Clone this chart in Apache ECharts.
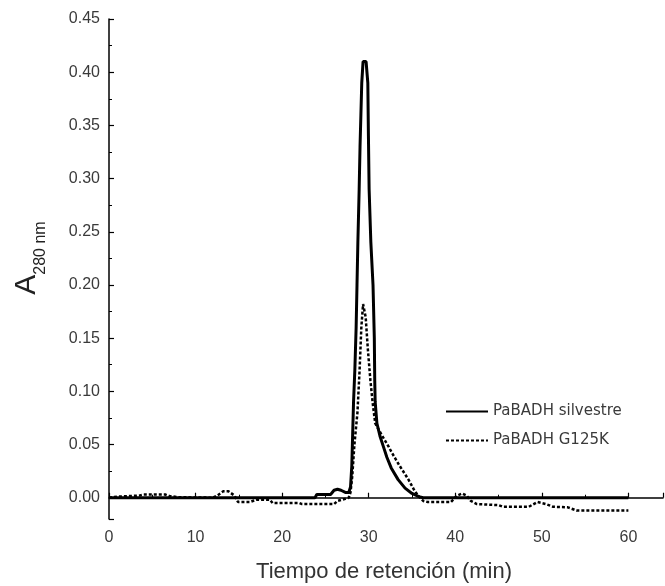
<!DOCTYPE html>
<html>
<head>
<meta charset="utf-8">
<script src="https://cdn.jsdelivr.net/npm/echarts@6/dist/echarts.min.js"></script>
<style>
html,body{margin:0;padding:0;background:#fff;}
#chart{width:665px;height:586px;}
</style>
</head>
<body>
<div id="chart"></div>
<script>
// Data
const seriesNames = ['PaBADH silvestre', 'PaBADH G125K'];
const xTicks = [0, 10, 20, 30, 40, 50, 60];
const yTicks = [0.00, 0.05, 0.10, 0.15, 0.20, 0.25, 0.30, 0.35, 0.40, 0.45];

// PaBADH silvestre (solid)
const wildT = [0, 23.8, 24.0, 25.6, 26.0, 26.4, 26.8, 27.3, 27.7, 27.9, 28.05, 28.15, 28.25, 28.4, 28.55, 28.65, 28.75, 28.9, 29.0, 29.1, 29.2, 29.35, 29.7, 29.9, 29.97, 30.05, 30.25, 30.5, 30.65, 30.7, 30.75, 30.95, 31.3, 31.7, 32.1, 32.6, 33.4, 34.2, 35.0, 35.8, 36.3, 60];
const wildA = [0, 0, 0.003, 0.003, 0.007, 0.008, 0.007, 0.005, 0.005, 0.010, 0.030, 0.060, 0.090, 0.120, 0.160, 0.200, 0.240, 0.290, 0.330, 0.360, 0.390, 0.410, 0.410, 0.390, 0.340, 0.290, 0.240, 0.200, 0.150, 0.110, 0.090, 0.070, 0.058, 0.048, 0.038, 0.028, 0.017, 0.009, 0.004, 0.001, 0, 0];

// PaBADH G125K (dashed)
const mutT = [0, 1, 3.5, 4, 6.5, 7, 8, 12, 12.5, 13.2, 13.8, 14.5, 14.9, 16.3, 17, 18.6, 18.9, 22, 22.3, 26, 26.4, 27.3, 27.7, 27.9, 28.1, 28.35, 28.7, 28.95, 29.15, 29.35, 29.5, 29.65, 29.9, 30.2, 30.45, 30.75, 31.5, 32.3, 32.7, 33.5, 34.6, 35.2, 35.7, 36.3, 36.8, 39.5, 40.2, 40.8, 41.3, 41.8, 42.5, 45, 45.5, 48.5, 49.5, 50.5, 51.3, 53, 54, 60];
const mutA = [0, 0.001, 0.002, 0.003, 0.003, 0.0015, 0.0005, 0, 0.002, 0.006, 0.006, 0.002, -0.004, -0.004, -0.002, -0.002, -0.005, -0.005, -0.006, -0.006, -0.003, -0.001, 0, 0.005, 0.020, 0.050, 0.080, 0.120, 0.160, 0.182, 0.182, 0.170, 0.140, 0.110, 0.090, 0.070, 0.059, 0.048, 0.042, 0.031, 0.017, 0.008, 0.002, -0.003, -0.004, -0.004, 0.002, 0.004, 0.002, -0.003, -0.006, -0.007, -0.0085, -0.0085, -0.004, -0.006, -0.0085, -0.009, -0.012, -0.012];

const FONT = "'Liberation Sans', Arial, sans-serif";
const TXT = '#3a3a3a';

const chart = echarts.init(document.getElementById('chart'), null, {renderer: 'canvas'});
chart.setOption({
  animation: false,
  backgroundColor: '#ffffff',
  grid: {left: 109, top: 19, width: 554, height: 500, containLabel: false, outerBoundsMode: 'none'},
  legend: {
    orient: 'vertical',
    left: 445,
    top: 404,
    padding: 0,
    itemWidth: 42,
    itemHeight: 14,
    itemGap: 14,
    itemStyle: {opacity: 0},
    textStyle: {fontFamily: "'DejaVu Sans', sans-serif", fontSize: 15, color: TXT},
    data: seriesNames
  },
  xAxis: {
    type: 'value',
    min: 0,
    max: 64,
    interval: 10,
    name: 'Tiempo de retención (min)',
    nameLocation: 'middle',
    nameGap: 42,
    nameTextStyle: {fontFamily: FONT, fontSize: 22, color: '#333', padding: [0, 4, 0, 0]},
    axisLine: {show: true, lineStyle: {color: '#000', width: 1.5}},
    axisTick: {show: true, inside: true, length: 5, lineStyle: {color: '#000', width: 1.2}},
    minorTick: {show: true, splitNumber: 2, length: 3, lineStyle: {color: '#000', width: 1}},
    axisLabel: {
      fontFamily: FONT, fontSize: 16, color: TXT, margin: 11, showMaxLabel: false,
      formatter: v => (xTicks.indexOf(v) >= 0 ? String(v) : '')
    },
    splitLine: {show: false}
  },
  yAxis: {
    type: 'value',
    min: -0.02,
    max: 0.45,
    splitNumber: 9,
    minInterval: 0.05,
    maxInterval: 0.05,
    name: '{a|A}{s|280 nm}',
    nameLocation: 'middle',
    nameGap: 60,
    nameTextStyle: {
      padding: [0, 0, 0, 22],
      rich: {
        a: {fontFamily: FONT, fontSize: 30, lineHeight: 44, color: '#222'},
        s: {fontFamily: FONT, fontSize: 16, lineHeight: 10, verticalAlign: 'bottom', color: '#222'}
      }
    },
    axisLine: {show: true, onZero: false, lineStyle: {color: '#000', width: 1.5}},
    axisTick: {show: true, inside: true, length: 5, lineStyle: {color: '#000', width: 1.2}},
    minorTick: {show: true, splitNumber: 2, length: 3, lineStyle: {color: '#000', width: 1}},
    axisLabel: {
      fontFamily: FONT, fontSize: 16, color: TXT, margin: 9, showMinLabel: false,
      formatter: v => {
        const hit = yTicks.find(t => Math.abs(t - v) < 1e-9);
        return hit === undefined ? '' : hit.toFixed(2);
      }
    },
    splitLine: {show: false}
  },
  series: [
    {
      name: seriesNames[0],
      type: 'line',
      symbol: 'none',
      data: wildT.map((t, i) => [t, wildA[i]]),
      lineStyle: {color: '#000', width: 3, type: 'solid'},
      itemStyle: {color: '#000'},
      z: 3
    },
    {
      name: seriesNames[1],
      type: 'line',
      symbol: 'none',
      data: mutT.map((t, i) => [t, mutA[i]]),
      lineStyle: {color: '#000', width: 2.5, type: [3, 2]},
      itemStyle: {color: '#000'},
      z: 2
    }
  ]
});
</script>
</body>
</html>
